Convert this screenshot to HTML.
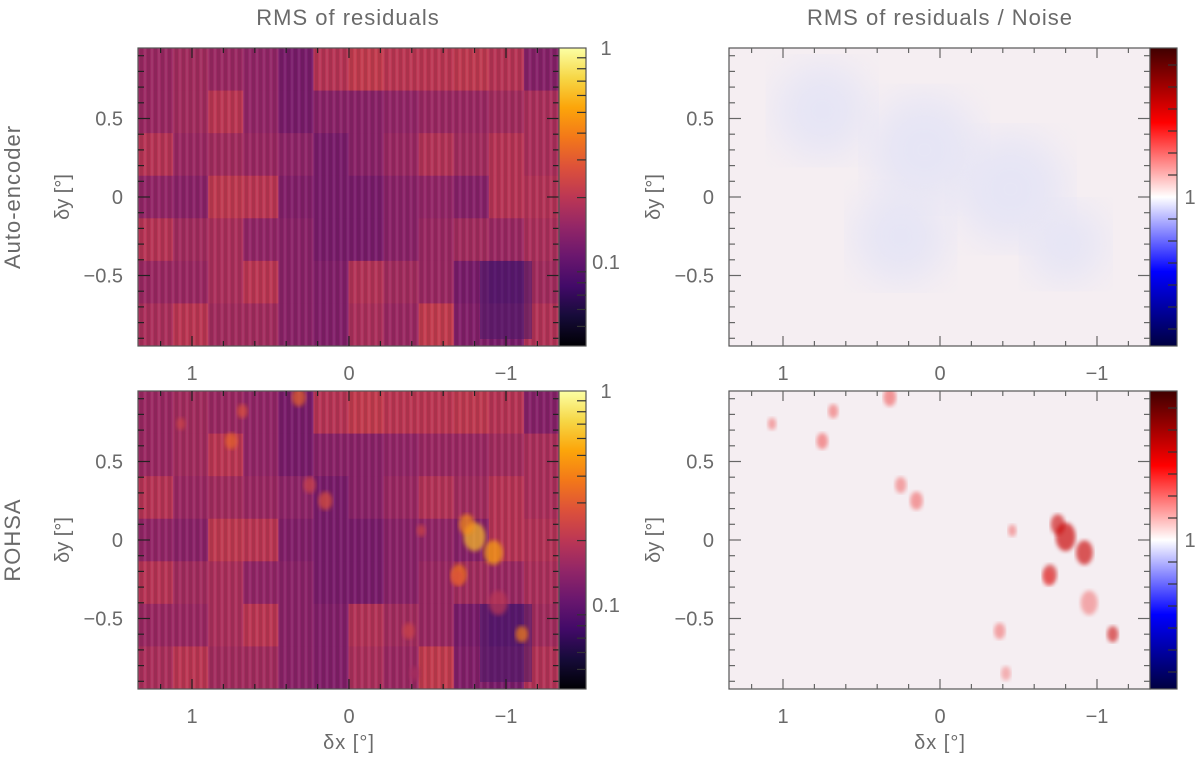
<!DOCTYPE html>
<html><head><meta charset="utf-8"><style>
html,body{margin:0;padding:0;background:#fff;}
svg text{font-family:"Liberation Sans",sans-serif;fill:#6a6a6a;}
</style></head><body>
<svg id="fig" xmlns="http://www.w3.org/2000/svg" width="1200" height="755" viewBox="0 0 1200 755">
<defs>
<linearGradient id="inferno" x1="0" y1="1" x2="0" y2="0">
<stop offset="0" stop-color="#000004"/><stop offset="0.1" stop-color="#160b39"/><stop offset="0.2" stop-color="#420a68"/><stop offset="0.3" stop-color="#6a176e"/><stop offset="0.4" stop-color="#932667"/><stop offset="0.5" stop-color="#bc3754"/><stop offset="0.6" stop-color="#dd513a"/><stop offset="0.7" stop-color="#f37819"/><stop offset="0.8" stop-color="#fca50a"/><stop offset="0.9" stop-color="#f6d746"/><stop offset="1" stop-color="#fcffa4"/>
</linearGradient>
<linearGradient id="bwr" x1="0" y1="1" x2="0" y2="0">
<stop offset="0" stop-color="#000040"/><stop offset="0.25" stop-color="#0000ff"/><stop offset="0.5" stop-color="#ffffff"/><stop offset="0.75" stop-color="#ff0000"/><stop offset="1" stop-color="#400000"/>
</linearGradient>
<pattern id="stripes" width="7" height="10" patternUnits="userSpaceOnUse">
<rect x="0" y="0" width="3" height="10" fill="#000" opacity="0.09"/>
<rect x="4" y="0" width="2" height="10" fill="#fff" opacity="0.06"/>
</pattern>
<filter id="blur3"><feGaussianBlur stdDeviation="2"/></filter>
<filter id="blur12"><feGaussianBlur stdDeviation="18"/></filter>
<clipPath id="c0"><rect x="138" y="48" width="421" height="298"/></clipPath>
<clipPath id="c1"><rect x="729" y="48" width="421" height="298"/></clipPath>
<clipPath id="c2"><rect x="138" y="391" width="421" height="298"/></clipPath>
<clipPath id="c3"><rect x="729" y="391" width="421" height="298"/></clipPath>
</defs>
<g id="layer"></g>
</svg>
<script>
// tile colormap positions (0..1 of inferno), 7 rows x 12 cols
const tileRow0=[0.42,0.44,0.42,0.40,0.34,0.49,0.52,0.50,0.50,0.51,0.49,0.37];
const tileRow1=[0.42,0.44,0.50,0.40,0.34,0.38,0.38,0.40,0.42,0.42,0.44,0.46];
const tileRow2=[0.49,0.42,0.44,0.42,0.39,0.34,0.38,0.42,0.48,0.44,0.49,0.46];
const tileRow3=[0.40,0.38,0.51,0.50,0.36,0.34,0.34,0.38,0.40,0.37,0.49,0.48];
const tileRow4=[0.49,0.44,0.46,0.40,0.38,0.34,0.34,0.38,0.42,0.44,0.42,0.46];
const tileRow5=[0.42,0.42,0.46,0.50,0.38,0.36,0.48,0.44,0.42,0.34,0.29,0.44];
const tileRow6=[0.46,0.50,0.44,0.44,0.38,0.36,0.46,0.42,0.52,0.36,0.34,0.48];
// residual features (deg): x, y, size, strength
const blobX=[-0.80,-0.92,-0.70,-1.10,0.75,0.68,0.32,0.15,-0.38,-0.46,1.07,-0.69,-0.42,-0.95,-0.75,0.25];
const blobY=[0.02,-0.08,-0.22,-0.60,0.63,0.82,0.91,0.25,-0.58,0.06,0.74,-0.24,-0.85,-0.40,0.10,0.35];
const blobS=[0.07,0.06,0.05,0.04,0.04,0.035,0.045,0.045,0.04,0.03,0.03,0.04,0.035,0.06,0.05,0.04];
const blobV=[0.85,0.80,0.70,0.72,0.65,0.60,0.65,0.60,0.55,0.55,0.55,0.60,0.45,0.50,0.75,0.55];
// faint blue regions in top-right (deg)
const blueX=[0.75,0.10,-0.45,-0.80,0.25];
const blueY=[0.55,0.30,0.05,-0.30,-0.25];
const blueR=[0.30,0.35,0.35,0.25,0.30];
const xTicks=[1,0,-1];
const xTickLabels=["1","0","\u22121"];
const yTicks=[0.5,0,-0.5];
const yTickLabels=["0.5","0","\u22120.5"];

const NS="http://www.w3.org/2000/svg";
const layer=document.getElementById('layer');
const rows=[tileRow0,tileRow1,tileRow2,tileRow3,tileRow4,tileRow5,tileRow6];
const stops=[[0,0,4],[22,11,57],[66,10,104],[106,23,110],[147,38,103],[188,55,84],[221,81,58],[243,120,25],[252,165,10],[246,215,70],[252,255,164]];
function inferno(t){t=Math.max(0,Math.min(1,t));const f=t*10,i=Math.min(9,Math.floor(f)),r=f-i;const a=stops[i],b=stops[i+1];return `rgb(${a.map((v,k)=>Math.round(v+(b[k]-v)*r)).join(',')})`;}
function mk(tag,attrs,parent){const e=document.createElementNS(NS,tag);for(const k in attrs)e.setAttribute(k,attrs[k]);(parent||layer).appendChild(e);return e;}
const panels=[{x0:138,y0:48,kind:'rms',blobs:false,c:'c0'},{x0:729,y0:48,kind:'ratio',blobs:false,c:'c1'},{x0:138,y0:391,kind:'rms',blobs:true,c:'c2'},{x0:729,y0:391,kind:'ratio',blobs:true,c:'c3'}];
const W=421,H=298,PX=157;
panels.forEach((p,pi)=>{
  const sx=d=>p.x0+211-d*PX, sy=d=>p.y0+149-d*PX;
  const g=mk('g',{'clip-path':`url(#${p.c})`});
  
  
  if(p.kind==='rms'){
    rows.forEach((row,ri)=>row.forEach((v,ci)=>{
      const r=mk('rect',{x:p.x0+ci*W/12,y:p.y0+ri*H/7,width:W/12+0.5,height:H/7+0.5,fill:inferno(v)},g);
      
      
    }));
    mk('rect',{x:p.x0,y:p.y0,width:W,height:H,fill:'url(#stripes)'},g);
    mk('rect',{x:p.x0+342,y:p.y0+213,width:52,height:78,fill:'#4a1a6a',opacity:0.55},g);
    if(p.blobs){blobX.forEach((bx,i)=>{const c=mk('ellipse',{cx:sx(bx),cy:sy(blobY[i]),rx:blobS[i]*PX,ry:blobS[i]*PX*1.3,fill:inferno(blobV[i]),opacity:0.7,filter:'url(#blur3)'},g);});}
  } else {
    mk('rect',{x:p.x0,y:p.y0,width:W,height:H,fill:'#f5eef2'},g);
    if(!p.blobs){blueX.forEach((bx,i)=>{const c=mk('circle',{cx:sx(bx),cy:sy(blueY[i]),r:blueR[i]*PX,fill:'#e6e5f5',filter:'url(#blur12)'},g);});}
    else {blobX.forEach((bx,i)=>{const c=mk('ellipse',{cx:sx(bx),cy:sy(blobY[i]),rx:blobS[i]*PX*0.9,ry:blobS[i]*PX*1.3,fill:i<4||i===14?'#c80000':'#ee4040',opacity:blobV[i]*0.8,filter:'url(#blur3)'},g);});}
  }
  const fr=mk('rect',{x:p.x0,y:p.y0,width:W,height:H,fill:'none',stroke:'#555','stroke-width':1.2});
  
  
  const tc=p.kind==='rms'?'#222':'#666';
  for(let k=-7;k<=7;k++){const d=k*0.2,x=sx(d);if(x<p.x0||x>p.x0+W)continue;const L=(Math.abs(k)%5===0)?10:5;
    mk('line',{x1:x,y1:p.y0,x2:x,y2:p.y0+L,stroke:tc,'stroke-width':1.2});mk('line',{x1:x,y1:p.y0+H,x2:x,y2:p.y0+H-L,stroke:tc,'stroke-width':1.2});}
  for(let k=-9;k<=9;k++){const d=k*0.1,y=sy(d);const L=(Math.abs(k)%5===0)?12:6;
    mk('line',{x1:p.x0,y1:y,x2:p.x0+L,y2:y,stroke:tc,'stroke-width':1.2});mk('line',{x1:p.x0+W,y1:y,x2:p.x0+W-L,y2:y,stroke:tc,'stroke-width':1.2});}
  xTicks.forEach((d,i)=>{const t=mk('text',{x:sx(d),y:p.y0+H+34,'text-anchor':'middle','font-size':20});t.textContent=xTickLabels[i];});
  yTicks.forEach((d,i)=>{const t=mk('text',{x:p.x0-15,y:sy(d)+7,'text-anchor':'end','font-size':20});t.textContent=yTickLabels[i];});
  const yl=mk('text',{x:0,y:0,'text-anchor':'middle','font-size':20,transform:`translate(${p.x0-69},${p.y0+149}) rotate(-90)`});
  yl.textContent='\u03b4y [\u00b0]';
  const cx=p.x0+W;
  const cb=mk('rect',{x:cx,y:p.y0,width:27,height:H,fill:p.kind==='rms'?'url(#inferno)':'url(#bwr)',stroke:'#555','stroke-width':1.2});
  
  if(p.kind==='rms'){
    const dec=214;
    for(let m=2;m<=9;m++){const y=p.y0+dec*(1-Math.log10(m));mk('line',{x1:cx+27,y1:y,x2:cx+18,y2:y,stroke:'#333','stroke-width':1.2});}
    for(let m=4;m<=9;m++){const y=p.y0+dec*(2-Math.log10(m));if(y<p.y0+H)mk('line',{x1:cx+27,y1:y,x2:cx+18,y2:y,stroke:'#333','stroke-width':1.2});}
    const a=mk('text',{x:cx+47,y:p.y0+7,'text-anchor':'middle','font-size':20});a.textContent='1';
    const b=mk('text',{x:cx+47,y:p.y0+dec+7,'text-anchor':'middle','font-size':20});b.textContent='0.1';
  } else {
    for(let k=-6;k<=6;k++){if(k===0)continue;const y=p.y0+149-k*22;mk('line',{x1:cx+27,y1:y,x2:cx+18,y2:y,stroke:'#333','stroke-width':1.2});}
    const a=mk('text',{x:cx+40,y:p.y0+156,'text-anchor':'middle','font-size':20});a.textContent='1';
  }
});
function label(txt,x,y,size,name,rot){const t=mk('text',{x:x,y:y,'text-anchor':'middle','font-size':size,'letter-spacing':1});if(rot)t.setAttribute('transform',`rotate(-90 ${x} ${y})`);t.textContent=txt;}
label('RMS of residuals',348,25,22,'title-rms');
label('RMS of residuals / Noise',940,25,22,'title-rms-noise');
label('Auto-encoder',20,197,22,'row-label-autoencoder',true);
label('ROHSA',20,540,22,'row-label-rohsa',true);
label('\u03b4x [\u00b0]',349,749,20,'x-axis-title');
label('\u03b4x [\u00b0]',940,749,20,'x-axis-title');
</script>
</body></html>
